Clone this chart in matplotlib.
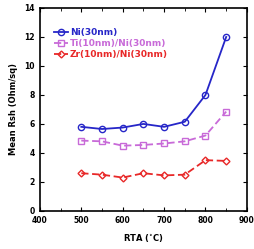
import matplotlib
matplotlib.use("Agg")
import matplotlib.pyplot as plt
from matplotlib.ticker import MultipleLocator

rta = [500, 550, 600, 650, 700, 750, 800, 850]
ni = [5.8, 5.65, 5.75, 6.0, 5.8, 6.15, 8.0, 12.0]
ti_ni = [4.85, 4.8, 4.5, 4.55, 4.65, 4.8, 5.2, 6.85]
zr_ni = [2.6, 2.5, 2.3, 2.6, 2.45, 2.5, 3.5, 3.45]

plt.rcParams['font.family'] = 'DejaVu Sans'
plt.rcParams['font.weight'] = 'bold'

fig = plt.figure(figsize=(2.54, 2.49), dpi=100)
ax = fig.add_axes([0.157, 0.153, 0.815, 0.815])

ax.plot(rta, ni, color='#2626c8', marker='o', ms=4.5, mfc='none', mew=1, lw=1.3,
        label='Ni(30nm)')
ax.plot(rta, ti_ni, color='#c86ad8', marker='s', ms=4.5, mfc='none', mew=1, lw=1.3,
        ls=(0, (4, 2)), label='Ti(10nm)/Ni(30nm)')
ax.plot(rta, zr_ni, color='#e82828', marker='D', ms=3.5, mfc='none', mew=1, lw=1.3,
        ls=(0, (4, 2)), label='Zr(10nm)/Ni(30nm)')

ax.set_xlim(400, 900)
ax.set_ylim(0, 14)
ax.xaxis.set_major_locator(MultipleLocator(100))
ax.xaxis.set_minor_locator(MultipleLocator(50))
ax.yaxis.set_major_locator(MultipleLocator(2))
ax.tick_params(which='both', direction='in', top=True, right=True, labelsize=5.5)
ax.tick_params(which='major', length=3)
ax.tick_params(which='minor', length=2)
for s in ax.spines.values():
    s.set_linewidth(1.2)

ax.set_xlabel('RTA ($^{\\circ}$C)', fontsize=6, fontweight='bold', labelpad=5)
ax.set_ylabel('Mean Rsh (Ohm/sq)', fontsize=6, fontweight='bold', labelpad=5)

leg = ax.legend(loc='upper left', bbox_to_anchor=(0.05, 0.92), frameon=False,
                prop={'size': 6.5, 'weight': 'semibold'}, handlelength=1.6,
                handletextpad=0.2, labelspacing=0.25, borderaxespad=0)
for txt, line in zip(leg.get_texts(), leg.get_lines()):
    txt.set_color(line.get_color())

fig.savefig('out.png', dpi=100)
